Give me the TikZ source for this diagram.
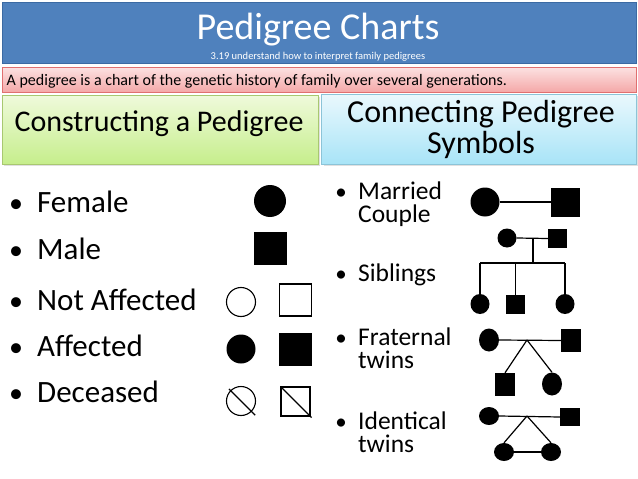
\documentclass[tikz,border=0pt]{standalone}
\usepackage{fontspec}
\setmainfont{Carlito}
\usetikzlibrary{shapes.geometric}
\definecolor{titleblue}{HTML}{4F81BD}
\definecolor{titleedge}{HTML}{3B6AA3}
\definecolor{pinktop}{HTML}{FCE2E2}
\definecolor{pinkbot}{HTML}{F4A8A8}
\definecolor{pinkedge}{HTML}{E07070}
\definecolor{greentop}{HTML}{EFFADB}
\definecolor{greenbot}{HTML}{C6EE8C}
\definecolor{greenedge}{HTML}{A8C870}
\definecolor{cyantop}{HTML}{EAF8FD}
\definecolor{cyanbot}{HTML}{A8E4F7}
\definecolor{cyanedge}{HTML}{8CC4D8}
\tikzset{
  femsym/.style={circle,fill=black,inner sep=0pt,minimum size=#1},
  malsym/.style={rectangle,fill=black,inner sep=0pt,minimum size=#1},
  ovsym/.style 2 args={ellipse,fill=black,inner sep=0pt,minimum width=#1,minimum height=#2},
  rectsym/.style 2 args={rectangle,fill=black,inner sep=0pt,minimum width=#1,minimum height=#2},
  opencirc/.style={circle,draw=black,line width=1.1pt,inner sep=0pt,minimum size=29pt},
  opensq/.style={rectangle,draw=black,line width=1.1pt,inner sep=0pt,minimum size=32pt},
  link/.style={draw=black,line width=1.2pt},
  bigtext/.style={anchor=base west,inner sep=0pt,font=\fontsize{31}{33}\selectfont},
  midtext/.style={anchor=base west,inner sep=0pt,font=\fontsize{25.5}{27}\selectfont},
  bigbul/.style={anchor=base,inner sep=0pt,font=\fontsize{28}{30}\selectfont},
  midbul/.style={anchor=base,inner sep=0pt,font=\fontsize{23}{25}\selectfont},
}
\begin{document}
\begin{tikzpicture}[x=1pt,y=-1pt]
\useasboundingbox (0,0) rectangle (638,479);
\fill[white] (0,0) rectangle (638,479);
% header bars
\draw[titleedge,fill=titleblue,line width=0.8pt] (2,2) rectangle (636,63);
\node[text=white,font=\fontsize{38}{40}\selectfont,anchor=base,inner sep=0pt] (title) at (318,39) {Pedigree Charts};
\node[text=white,font=\fontsize{10.5}{12}\selectfont,anchor=base,inner sep=0pt] (sub) at (318,59) {3.19 understand how to interpret family pedigrees};
\draw[pinkedge,top color=pinktop,bottom color=pinkbot,line width=0.8pt] (2,67) rectangle (636,92);
\node[font=\fontsize{16}{18}\selectfont,anchor=base west,inner sep=0pt] (def) at (6.5,85) {A pedigree is a chart of the genetic history of family over several generations.};
\fill[black!12] (4,97) rectangle (320,166);
\draw[greenedge,top color=greentop,bottom color=greenbot,line width=0.8pt] (2,95) rectangle (318,164);
\node[font=\fontsize{30}{32}\selectfont,anchor=base,inner sep=0pt] (lhead) at (159,131.5) {Constructing a Pedigree};
\fill[black!12] (324,96) rectangle (638,166);
\draw[cyanedge,top color=cyantop,bottom color=cyanbot,line width=0.8pt] (321,94) rectangle (636,164);
\node[font=\fontsize{32}{34}\selectfont,anchor=base,inner sep=0pt] (rhead1) at (481,122) {Connecting Pedigree};
\node[font=\fontsize{32}{34}\selectfont,anchor=base,inner sep=0pt] (rhead2) at (481,153) {Symbols};
% left list
\node[bigbul] (b1) at (16,212) {•};
\node[bigtext] (t1) at (37,212) {Female};
\node[bigbul] (b2) at (16,259) {•};
\node[bigtext] (t2) at (37,259) {Male};
\node[bigbul] (b3) at (16,310) {•};
\node[bigtext] (t3) at (37,310) {Not Affected};
\node[bigbul] (b4) at (16,356) {•};
\node[bigtext] (t4) at (37,356) {Affected};
\node[bigbul] (b5) at (16,402) {•};
\node[bigtext] (t5) at (37,402) {Deceased};
% left symbols
\node[femsym=32pt] (fem) at (270,201) {};
\node[malsym=33pt] (mal) at (270.5,248.5) {};
\node[opencirc] (nac) at (241,302) {};
\node[opensq] (nas) at (295.5,300) {};
\node[femsym=29pt] (afc) at (241,349) {};
\node[malsym=33pt] (afs) at (295.5,349.5) {};
\node[opencirc] (dcc) at (241,401) {};
\node[opensq,minimum size=29pt] (dcs) at (295.5,401.5) {};
\draw[black,line width=1.1pt,shorten <=-2pt,shorten >=-5pt] (dcc.north west) -- (dcc.south east);
\draw[black,line width=1.1pt,shorten >=-1.5pt] (dcs.north west) -- (dcs.south east);
% right list
\node[midbul] (r1) at (341,199) {•};
\node[midtext] (u1) at (358,199) {Married};
\node[midtext] (u1b) at (358,222.5) {Couple};
\node[midbul] (r2) at (341,281) {•};
\node[midtext] (u2) at (358,281) {Siblings};
\node[midbul] (r3) at (341,345) {•};
\node[midtext] (u3) at (358,345) {Fraternal};
\node[midtext] (u3b) at (358,368.5) {twins};
\node[midbul] (r4) at (341,429) {•};
\node[midtext] (u4) at (358,429) {Identical};
\node[midtext] (u4b) at (358,452.5) {twins};
% married couple
\node[femsym=29pt] (mcf) at (485,202) {};
\node[malsym=29pt] (mcm) at (565.5,202) {};
\draw[link] (mcf.east) -- (mcm.west);
% siblings
\node[femsym=19pt] (spf) at (507,238) {};
\node[malsym=19pt] (spm) at (557.5,238.5) {};
\coordinate (sj) at (533,238);
\coordinate (ss) at (533,263);
\node[ovsym={19pt}{20pt}] (sk1) at (480,304) {};
\node[malsym=19pt] (sk2) at (515.5,304.5) {};
\node[ovsym={19pt}{20pt}] (sk3) at (565,304) {};
\draw[link] (spf.east) -- (spm.west);
\draw[link] (sj) -- (ss);
\draw[link] (sk1.north |- ss) -- (sk3.north |- ss);
\draw[link] (sk1.north |- ss) -- (sk1.north);
\draw[link] (sk2.north |- ss) -- (sk2.north);
\draw[link] (sk3.north |- ss) -- (sk3.north);
% fraternal twins
\node[ovsym={20pt}{23pt}] (ftf) at (489,340) {};
\node[rectsym={20pt}{23pt}] (ftm) at (571,340.5) {};
\coordinate (fta) at (527,340);
\node[rectsym={20pt}{23pt}] (ft1) at (505,384.5) {};
\node[ovsym={20pt}{23pt}] (ft2) at (552,384) {};
\draw[link] (ftf.east) -- (ftm.west);
\draw[link] (fta) -- (ft1.north);
\draw[link] (fta) -- (ft2.north);
% identical twins
\node[ovsym={20pt}{18pt}] (itf) at (489,416) {};
\node[rectsym={20pt}{18pt}] (itm) at (570,417) {};
\coordinate (ita) at (527,416);
\node[ovsym={20pt}{18pt}] (it1) at (504,452) {};
\node[ovsym={20pt}{18pt}] (it2) at (551,452) {};
\draw[link] (itf.east) -- (itm.west);
\draw[link] (ita) -- (it1.north);
\draw[link] (ita) -- (it2.north);
\draw[link] (it1.east) -- (it2.west);
\end{tikzpicture}
\end{document}
